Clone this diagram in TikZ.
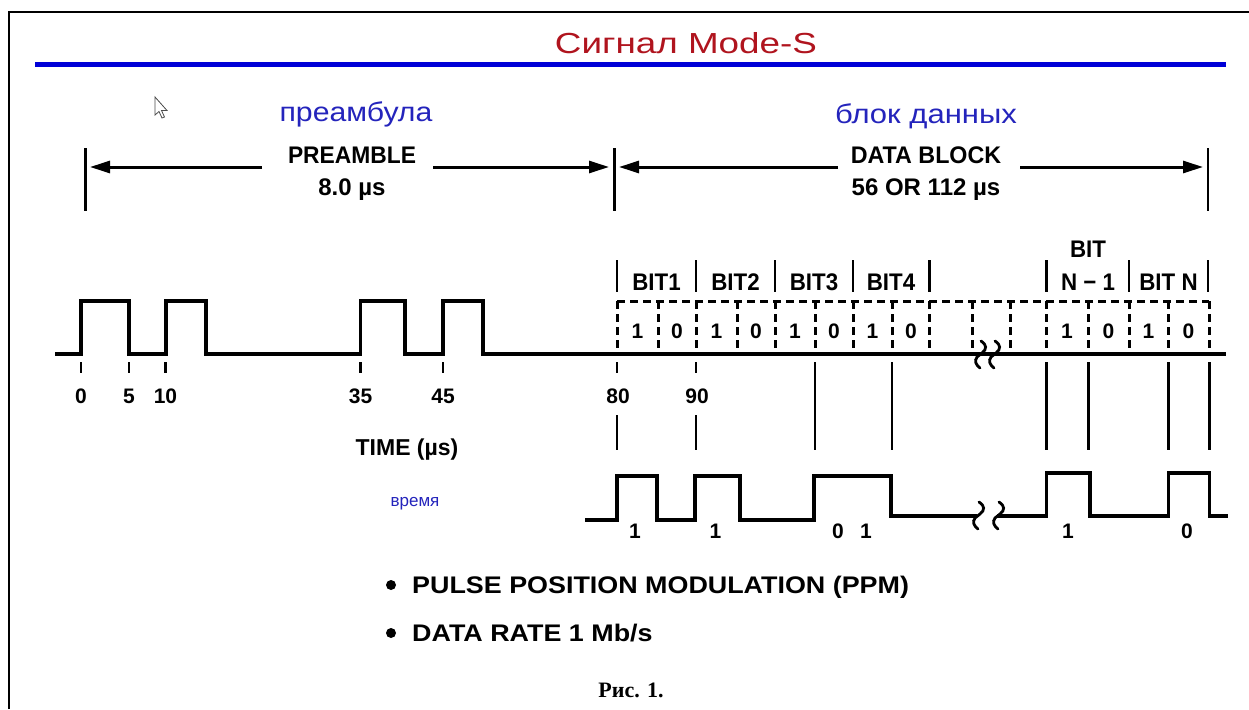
\documentclass[tikz,border=0pt]{standalone}
\usepackage{fontspec}
\setmainfont{Liberation Sans}
\newfontfamily\capserif{Liberation Serif}
\usetikzlibrary{arrows.meta}
\definecolor{titlered}{RGB}{176,20,30}
\definecolor{rublue}{RGB}{36,36,188}
\definecolor{lineblue}{RGB}{0,0,215}
\newcommand\hsc[2]{\scalebox{#1}[1]{#2}}
\newcommand\squig[2]{\draw[line width=2.8pt, line cap=round] (#1+1,#2-14) .. controls (#1+7,#2-10) and (#1+7,#2-6) .. (#1+2,#2-2) -- (#1-3,#2+2) .. controls (#1-6,#2+6) and (#1-4,#2+10) .. (#1,#2+13);}
\tikzset{
  lab/.style={inner sep=0pt, anchor=base, font=\bfseries\fontsize{#1}{#1}\selectfont},
  ru/.style={inner sep=0pt, anchor=base, text=rublue, font=\fontsize{#1}{#1}\selectfont},
  wave/.style={line width=3.2pt, line join=miter},
  bar/.style={line width=2.9pt},
  dsh/.style={line width=3pt, dash pattern=on 8pt off 5pt},
  dimarrow/.style={line width=3pt, -{Triangle[length=20pt,width=12pt]}},
}
\begin{document}
\begin{tikzpicture}[x=1pt,y=-1pt]
\useasboundingbox (0,0) rectangle (1249,709);
\fill[white] (0,0) rectangle (1249,709);
% frame
\draw[line width=2.5pt] (9,709) -- (9,12) -- (1249,12);
% title
\node[inner sep=0pt, anchor=base, text=titlered, font=\fontsize{29}{29}\selectfont] (title) at (686,54) {\hsc{1.27}{Сигнал Mode-S}};
\draw[lineblue, line width=5pt] (35,64.5) -- (1226,64.5);
% cursor
\draw[black!70, fill=white, line width=0.8pt] (155,97) -- (155,115) -- (159,111.5) -- (162,118) -- (164.5,117) -- (161.5,110.5) -- (167,110.5) -- cycle;
% russian captions
\node[ru=27] (pre) at (356,121) {\hsc{1.12}{преамбула}};
\node[ru=27] (blk) at (926,123) {\hsc{1.15}{блок данных}};
% dimension bars
\coordinate (b0t) at (85.5,148); \coordinate (b0b) at (85.5,211);
\coordinate (b1t) at (614.5,148); \coordinate (b1b) at (614.5,211);
\coordinate (b2t) at (1208,148); \coordinate (b2b) at (1208,211);
\draw[bar] (b0t) -- (b0b); \draw[bar] (b1t) -- (b1b); \draw[bar] (b2t) -- (b2b);
\node[lab=24] (pa) at (352,163) {\hsc{0.95}{PREAMBLE}};
\node[lab=24] (pb) at (352,195) {8.0 µs};
\node[lab=24] (da) at (926,163) {\hsc{0.97}{DATA BLOCK}};
\node[lab=24] (db) at (926,195) {56 OR 112 µs};
\coordinate (a1s) at (262,167); \coordinate (a1e) at (90,167);
\coordinate (a2s) at (433,167); \coordinate (a2e) at (609,167);
\coordinate (a3s) at (838,167); \coordinate (a3e) at (619,167);
\coordinate (a4s) at (1020,167); \coordinate (a4e) at (1203,167);
\draw[dimarrow] (a1s) -- (a1e);
\draw[dimarrow] (a2s) -- (a2e);
\draw[dimarrow] (a3s) -- (a3e);
\draw[dimarrow] (a4s) -- (a4e);
% bit header bars
\foreach \x in {617,696,775,853,929.5,1046.7,1129,1208}
  \draw[bar] (\x,260) -- (\x,292);
\node[lab=24] (h1) at (656.5,290) {\hsc{0.93}{BIT1}};
\node[lab=24] (h2) at (735.5,290) {\hsc{0.93}{BIT2}};
\node[lab=24] (h3) at (814,290) {\hsc{0.93}{BIT3}};
\node[lab=24] (h4) at (891,290) {\hsc{0.93}{BIT4}};
\node[lab=24] (hn1a) at (1088,257) {\hsc{0.93}{BIT}};
\node[lab=24] (hn1b) at (1088,290) {\hsc{0.93}{N − 1}};
\node[lab=24] (hn) at (1168.5,290) {\hsc{0.93}{BIT N}};
% dashed bit cells
\draw[dsh] (617,301) -- (1209,301);
\foreach \x in {617,658,696,737,775,815,853,892,929.5,972,1010,1046.7,1088,1129,1168,1209}
  \draw[dsh] (\x,301) -- (\x,354);
\foreach \x/\v in {637.5/1,677/0,716.5/1,756/0,795/1,834/0,872.5/1,911/0,1067/1,1108.5/0,1148.5/1,1188.5/0}
  \node[lab=21] at (\x,338) {\v};
% upper waveform
\draw[wave] (55,354) -| (81,301) -| (129,354) -| (166,301) -| (206,354) -| (360.5,301) -| (405,354) -| (443,301) -| (483,354) -- (1226,354);
\squig{980}{355}
\squig{994}{355}
% time ticks and labels
\foreach \x in {81,129,165.5,360.5,443,617,696}
  \draw[bar] (\x,362) -- (\x,373);
\foreach \x/\t in {81/0,129/5,165.5/10,360.5/35,443/45,618/80,697/90}
  \node[lab=21] at (\x,403) {\t};
\node[lab=23] (time) at (407,455) {TIME (µs)};
\node[ru=17] (vr) at (415,506) {\hsc{1.0}{время}};
% lower guide lines
\foreach \x in {617,696}
  \draw[bar] (\x,415) -- (\x,450);
\foreach \x in {815,892,1046.7,1088.3,1168.3,1209.3}
  \draw[bar] (\x,362) -- (\x,450);
% lower waveform
\draw[wave] (585,520) -| (617,476) -| (657,520) -| (695,476) -| (740,520) -| (814,476) -| (891,516) -- (977,516);
\draw[wave] (997,516) -| (1046.7,473) -| (1090,516) -| (1168.3,473) -| (1209.3,516) -- (1228,516);
\squig{978}{516}
\squig{998}{516}
\foreach \x/\v in {635/1,715.5/1,838/0,866/1,1068/1,1187/0}
  \node[lab=21] at (\x,538) {\v};
% bullets
\fill (391,585) circle (5);
\node[lab=24, anchor=base west] (l1) at (412,593) {\hsc{1.12}{PULSE POSITION MODULATION (PPM)}};
\fill (391,633) circle (5);
\node[lab=24, anchor=base west] (l2) at (412,641) {\hsc{1.12}{DATA RATE 1 Mb/s}};
\node[inner sep=0pt, anchor=base, font=\capserif\bfseries\fontsize{22}{22}\selectfont] (cap) at (631,697) {Рис. 1.};
\end{tikzpicture}
\end{document}
